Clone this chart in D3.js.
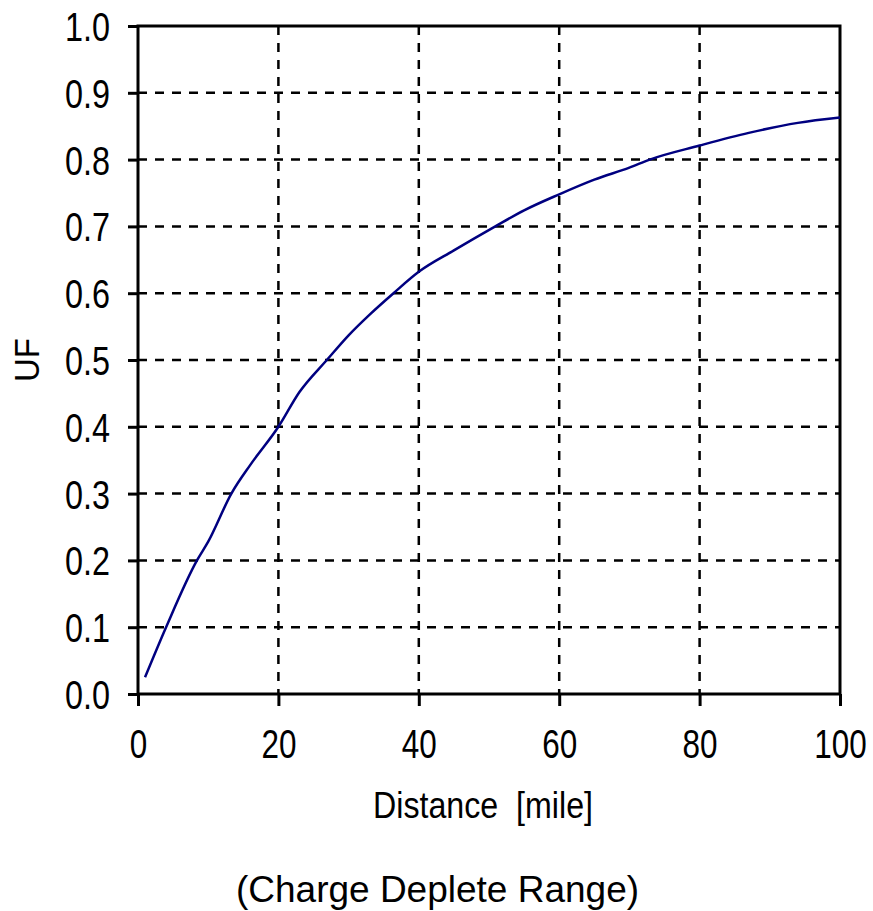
<!DOCTYPE html>
<html>
<head>
<meta charset="utf-8">
<script src="https://cdn.jsdelivr.net/npm/d3@7"></script>
<style>
html, body { margin: 0; padding: 0; background: #fff; }
svg { display: block; }
</style>
</head>
<body>
<script>
// ---- data ----
const distance = [1, 4, 8.4, 10, 13.3, 16, 20, 23, 26.9, 30, 33, 36.4, 40, 45, 50.9, 55, 60, 65, 70, 72.9, 80, 87, 94, 100];
const uf =       [0.025, 0.1, 0.2, 0.228, 0.3, 0.343, 0.4, 0.452, 0.5, 0.537, 0.568, 0.6, 0.632, 0.664, 0.7, 0.724, 0.748, 0.770, 0.788, 0.8, 0.821, 0.840, 0.855, 0.863];
const xTicks = [0, 20, 40, 60, 80, 100];
const yTicks = [0, 0.1, 0.2, 0.3, 0.4, 0.5, 0.6, 0.7, 0.8, 0.9, 1.0];
const xTitle = "Distance  [mile]";
const yTitle = "UF";
const caption = "(Charge Deplete Range)";

const W = 873, H = 911;
const sans = "'Liberation Sans', Arial, sans-serif";

const svg = d3.select("body").append("svg").attr("width", W).attr("height", H);
const x = d3.scaleLinear().domain([0, 100]).range([138, 840]);
const y = d3.scaleLinear().domain([0, 1]).range([694, 26]);

// width of a condensed label: digits ~17.5px, dot ~10px
const labelWidth = s => s.split("").reduce((a, c) => a + (c === "." ? 10 : 17.5), 0);

// grid
const grid = svg.append("g");
grid.selectAll("line.vg").data(xTicks.slice(1, -1)).enter().append("line")
  .attr("x1", d => x(d)).attr("x2", d => x(d))
  .attr("y1", y(1)).attr("y2", y(0))
  .attr("stroke", "#000").attr("stroke-width", 2.5).attr("stroke-dasharray", "9,8");
grid.selectAll("line.hg").data(yTicks.slice(1, -1)).enter().append("line")
  .attr("x1", x(0)).attr("x2", x(100))
  .attr("y1", d => y(d)).attr("y2", d => y(d))
  .attr("stroke", "#000").attr("stroke-width", 2.5).attr("stroke-dasharray", "9,8");

// axes
const xAxis = d3.axisBottom(x).tickValues(xTicks).tickSize(12).tickPadding(24).tickFormat(d3.format("d"));
const yAxis = d3.axisLeft(y).tickValues(yTicks).tickSize(10).tickPadding(18).tickFormat(d3.format(".1f"));

const gx = svg.append("g").attr("transform", `translate(0,${y(0)})`).call(xAxis);
const gy = svg.append("g").attr("transform", `translate(${x(0)},0)`).call(yAxis);
[gx, gy].forEach(g => {
  g.select(".domain").remove();
  g.selectAll(".tick line").attr("stroke", "#000").attr("stroke-width", 3);
  g.selectAll(".tick text").attr("fill", "#000").attr("font-family", sans).attr("font-size", 40);
});
gx.selectAll(".tick text").attr("dy", "0.71em");
gy.selectAll(".tick text").attr("dy", "0.36em");
// condense the tick labels horizontally with a scale transform
[gx, gy].forEach(g => {
  g.selectAll(".tick text").each(function() {
    const t = d3.select(this);
    const natural = this.getComputedTextLength();
    const sx = labelWidth(this.textContent) / natural;
    const tx = +t.attr("x") || 0;
    const ty = +t.attr("y") || 0;
    t.attr("x", 0).attr("y", 0).attr("transform", `translate(${tx},${ty}) scale(${sx},1)`);
  });
});

// frame
svg.append("rect").attr("x", x(0)).attr("y", y(1)).attr("width", x(100) - x(0)).attr("height", y(0) - y(1))
  .attr("fill", "none").attr("stroke", "#000").attr("stroke-width", 3);

// curve
const line = d3.line().x((d, i) => x(distance[i])).y((d, i) => y(uf[i])).curve(d3.curveMonotoneX);
svg.append("path").datum(uf).attr("d", line).attr("fill", "none")
  .attr("stroke", "#000080").attr("stroke-width", 2.5);

// titles
svg.append("text").attr("x", 483).attr("y", 818).attr("text-anchor", "middle")
  .attr("font-family", sans).attr("font-size", 36).attr("textLength", 220).attr("lengthAdjust", "spacingAndGlyphs")
  .style("white-space", "pre")
  .text(xTitle);
svg.append("text").attr("transform", "translate(39,360) rotate(-90)").attr("text-anchor", "middle")
  .attr("font-family", sans).attr("font-size", 35).attr("textLength", 44).attr("lengthAdjust", "spacingAndGlyphs")
  .text(yTitle);
svg.append("text").attr("x", 437.5).attr("y", 902).attr("text-anchor", "middle")
  .attr("font-family", sans).attr("font-size", 37)
  .text(caption);
</script>
</body>
</html>
